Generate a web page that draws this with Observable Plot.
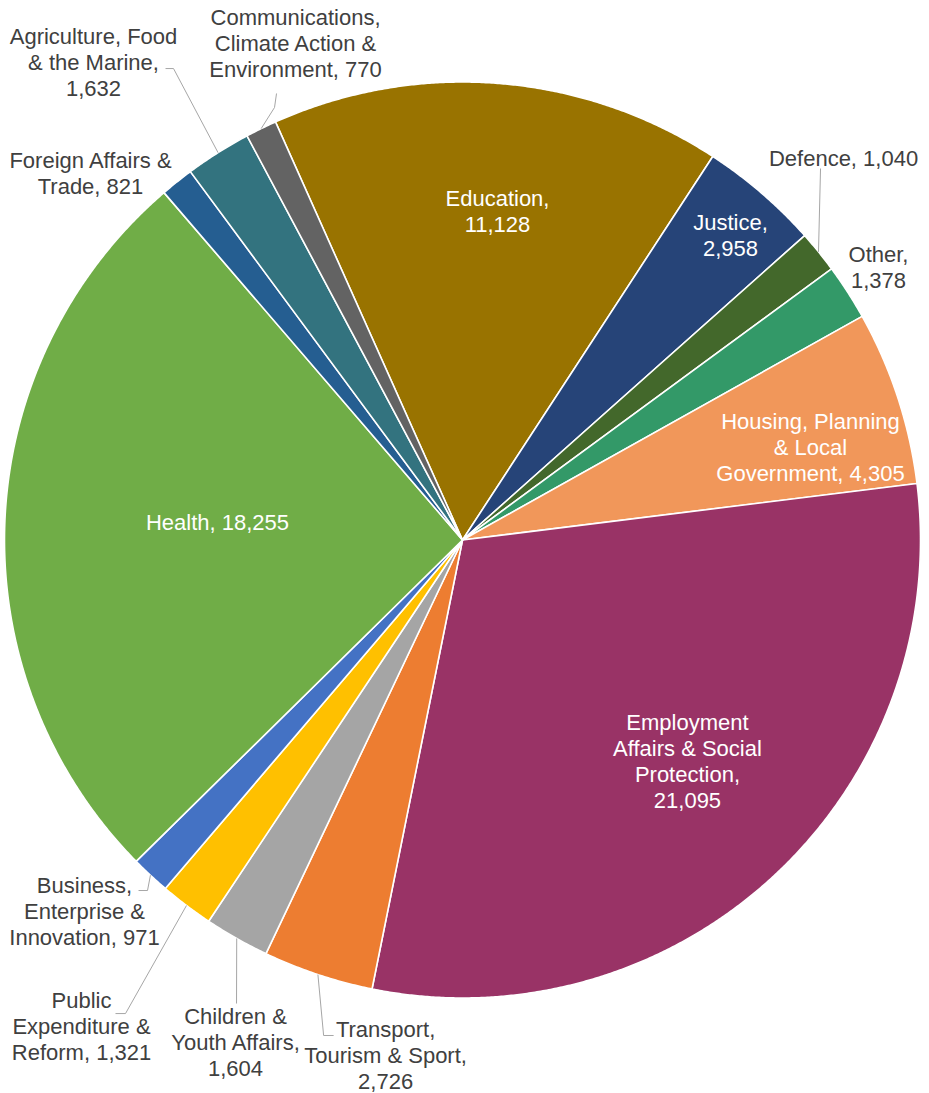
<!DOCTYPE html>
<html>
<head>
<meta charset="utf-8">
<script src="https://cdn.jsdelivr.net/npm/d3@7"></script>
<script src="https://cdn.jsdelivr.net/npm/@observablehq/plot@0.6"></script>
<style>
  html, body { margin: 0; padding: 0; background: #ffffff; }
  #chart svg { display: block; }
</style>
</head>
<body>
<div id="chart"></div>
<script>
// ---------- DATA ----------
const departments = [
  "Education",
  "Justice",
  "Defence",
  "Other",
  "Housing, Planning & Local Government",
  "Employment Affairs & Social Protection",
  "Transport, Tourism & Sport",
  "Children & Youth Affairs",
  "Public Expenditure & Reform",
  "Business, Enterprise & Innovation",
  "Health",
  "Foreign Affairs & Trade",
  "Agriculture, Food & the Marine",
  "Communications, Climate Action & Environment"
];
const spending = [11128, 2958, 1040, 1378, 4305, 21095, 2726, 1604, 1321, 971, 18255, 821, 1632, 770];
const sliceColors = ["#997300", "#264478", "#43682B", "#339968", "#F1975A", "#993366", "#ED7D31",
                     "#A5A5A5", "#FFC000", "#4472C4", "#70AD47", "#255E91", "#33737F", "#636363"];

// ---------- LAYOUT ----------
const W = 929, H = 1093;
const cx = 462, cy = 539.5, R = 458;
const startDeg = -24.1;
const FONT = "'Liberation Sans', Arial, Helvetica, sans-serif";
const FS = 22;
// label placement: [angle (deg clockwise from 12 o'clock), distance from centre (px), wrap width (px), inside?]
const labelLayout = [
  [6.07, 330.9, 140, true],
  [41.26, 406.4, 100, true],
  [44.89, 539.9, 300, false],
  [56.67, 497.9, 90, false],
  [74.96, 360.3, 198, true],
  [134.5, 315.4, 170, true],
  [188.5, 520.2, 172, false],
  [204.35, 550.5, 148, false],
  [218.12, 617.2, 160, false],
  [225.57, 529.3, 170, false],
  [274.32, 245.7, 300, true],
  [314.65, 522.9, 190, false],
  [322.36, 604.2, 182, false],
  [341.43, 524.3, 190, false]
];
// leader line waypoints as offsets from the label centre: [elbow, end] (null = no leader)
const leaderLayout = [
  null, null,
  [null, [-23, 11]],
  null, null, null,
  [[-62, -19], [-52, -19]],
  [null, [1, -38]],
  [[44, -12], [34, -12]],
  [[63, -20], [54, -20]],
  null, null,
  [[80, 7], [72, 7]],
  [[-21, 64.5], [-19, 50.5]]
];

// ---------- BUILD ----------
const rad = d => d * Math.PI / 180;
const polar = (a, r) => ({x: cx + r * Math.sin(a), y: cy - r * Math.cos(a)});

const rows = departments.map((name, i) => ({name, value: spending[i], color: sliceColors[i]}));
const arcs = d3.pie().sort(null).value(d => d.value)
  .startAngle(rad(startDeg)).endAngle(rad(startDeg) + 2 * Math.PI)(rows);

const slicePts = [];
for (const a of arcs) {
  const n = Math.max(2, Math.ceil((a.endAngle - a.startAngle) / rad(0.25)));
  slicePts.push({name: a.data.name, color: a.data.color, x: cx, y: cy});
  for (let k = 0; k <= n; k++) {
    const t = a.startAngle + (a.endAngle - a.startAngle) * k / n;
    const p = polar(t, R);
    slicePts.push({name: a.data.name, color: a.data.color, x: p.x, y: p.y});
  }
}

const ctx = document.createElement("canvas").getContext("2d");
ctx.font = `${FS}px ${FONT}`;
function wrap(str, maxW) {
  const words = str.split(" ");
  const lines = [];
  let cur = "";
  for (const w of words) {
    const test = cur ? cur + " " + w : w;
    if (cur && ctx.measureText(test).width > maxW) { lines.push(cur); cur = w; }
    else cur = test;
  }
  if (cur) lines.push(cur);
  return lines.join("\n");
}

const fmt = d3.format(",");
const labels = arcs.map((a, i) => {
  const [ang, dist, ww, inside] = labelLayout[i];
  const p = polar(rad(ang), dist);
  return {
    x: p.x, y: p.y,
    text: wrap(`${a.data.name}, ${fmt(a.data.value)}`, ww),
    color: inside ? "#ffffff" : "#404040"
  };
});

const leaderPts = [];
arcs.forEach((a, i) => {
  const L = leaderLayout[i];
  if (!L) return;
  const mid = (a.startAngle + a.endAngle) / 2;
  const e = polar(mid, R);
  leaderPts.push({name: a.data.name, x: e.x, y: e.y});
  for (const off of L) {
    if (!off) continue;
    leaderPts.push({name: a.data.name, x: labels[i].x + off[0], y: labels[i].y + off[1]});
  }
});

const chart = Plot.plot({
  width: W,
  height: H,
  margin: 0,
  x: {domain: [0, W], range: [0, W], axis: null},
  y: {domain: [0, H], range: [0, H], axis: null},
  color: {type: "identity"},
  style: {background: "#ffffff", fontFamily: FONT},
  marks: [
    Plot.line(slicePts, {
      x: "x", y: "y", z: "name", fill: "color",
      stroke: "#ffffff", strokeWidth: 1.6, strokeLinejoin: "round",
      curve: "linear-closed"
    }),
    Plot.line(leaderPts, {
      x: "x", y: "y", z: "name",
      stroke: "#A6A6A6", strokeWidth: 1, strokeLinecap: "butt", strokeLinejoin: "miter"
    }),
    Plot.text(labels, {
      x: "x", y: "y", text: "text", fill: "color",
      fontSize: FS, fontFamily: FONT, lineHeight: 26 / FS, textAnchor: "middle"
    })
  ]
});
document.getElementById("chart").appendChild(chart);
</script>
</body>
</html>
